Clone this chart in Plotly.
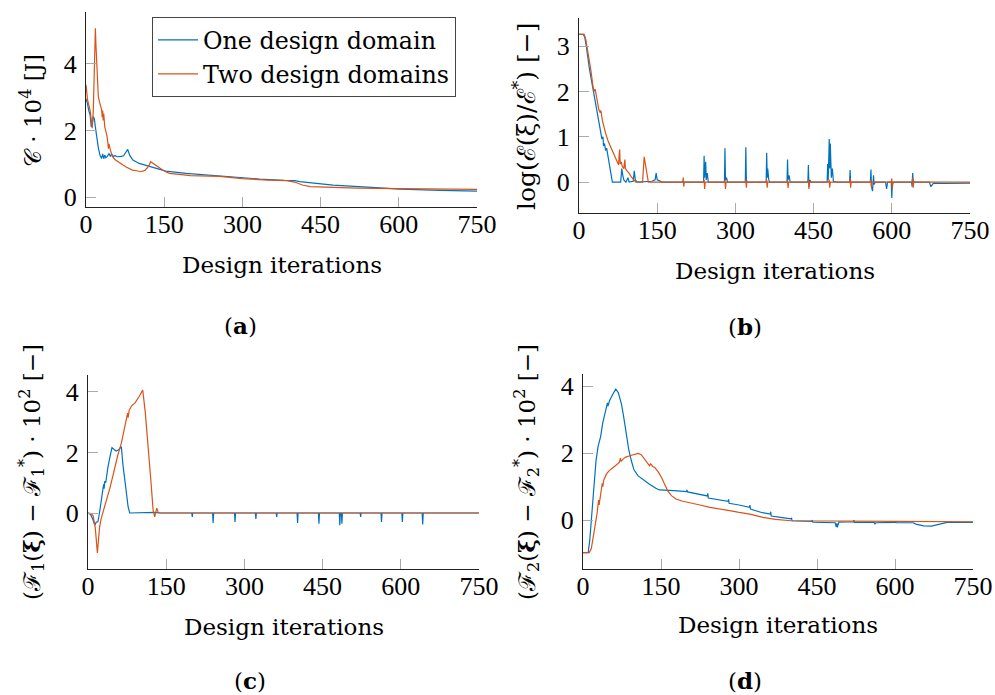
import plotly.graph_objects as go

W, H = 995, 695
BLUE = "#0072BD"
RED = "#D95319"

# ---------------- data ----------------
iter_ticks = [0, 150, 300, 450, 600, 750]

# (a) compliance C*10^4 [J]
a_one_x = [0, 3, 5, 8, 10, 12, 14, 16, 18, 21, 24, 27, 30, 32, 34, 36, 38, 41, 44, 47, 49, 52, 56, 60, 64, 68, 72, 76, 80, 84, 90, 102, 115, 128, 153, 192, 256, 333, 380, 400, 410, 440, 474, 540, 602, 680, 750]
a_one_y = [2.95, 2.8, 2.62, 2.45, 2.11, 2.2, 2.42, 2.35, 2.1, 1.71, 1.45, 1.25, 1.16, 1.3, 1.15, 1.26, 1.18, 1.22, 1.3, 1.22, 1.3, 1.22, 1.24, 1.21, 1.21, 1.22, 1.24, 1.32, 1.43, 1.25, 1.11, 1.01, 0.95, 0.89, 0.78, 0.71, 0.63, 0.54, 0.5, 0.49, 0.46, 0.42, 0.36, 0.3, 0.24, 0.2, 0.18]
a_two_x = [0, 3, 8, 11, 12, 14, 16, 18, 19, 21, 23.6, 26, 28, 30, 31, 32, 33, 34, 36, 38, 40, 42, 43, 44, 45, 47, 49, 51, 56, 61, 66, 71, 77, 83, 89, 97, 105, 113, 120, 124, 129, 134, 140, 147, 153, 160, 179, 200, 256, 300, 350, 385, 400, 415, 430, 470, 520, 600, 680, 750]
a_two_y = [3.37, 2.92, 2.6, 2.22, 2.07, 2.6, 4.0, 5.07, 4.6, 3.6, 3.02, 2.85, 2.7, 2.62, 2.4, 2.6, 2.3, 2.5, 2.11, 2.0, 1.85, 1.62, 1.45, 1.6, 1.5, 1.4, 1.3, 1.21, 1.12, 1.06, 1.0, 0.96, 0.9, 0.86, 0.81, 0.79, 0.76, 0.8, 0.92, 1.06, 1.0, 0.96, 0.88, 0.81, 0.76, 0.71, 0.68, 0.64, 0.62, 0.55, 0.51, 0.49, 0.45, 0.36, 0.31, 0.29, 0.27, 0.25, 0.23, 0.23]

# (b) log(E(xi)/E*) [-]
b_one_x = [0, 8, 11, 14, 20, 26, 32, 38, 42, 44, 46, 47, 49, 51, 53, 55, 58, 61, 64, 80, 82, 84, 86, 90, 94, 96, 104, 106, 108, 112, 140, 146, 148, 150, 160,
           239, 240, 241, 243, 244, 246, 248,
           279, 280, 281, 283, 285,
           319, 320, 321, 323,
           359, 360, 361, 362, 364, 366,
           399, 400, 401, 403, 405,
           439, 440, 441, 443, 445,
           476, 477, 478, 480, 481, 482, 484, 486, 488, 495,
           519, 520, 521, 523,
           559, 560, 561, 563, 565, 566, 568,
           588, 590, 592,
           599, 600, 601, 603,
           638, 639, 640, 641, 643,
           672, 675, 680, 700, 750]
b_one_y = [3.26, 3.26, 3.2, 3.0, 2.5, 2.1, 1.75, 1.37, 1.1, 0.95, 1.0, 0.8, 0.85, 0.7, 0.75, 0.6, 0.45, 0.2, 0.0, 0.0, 0.3, 0.15, 0.05, 0.0, 0.1, 0.0, 0.02, 0.25, 0.05, 0.0, 0.02, 0.05, 0.2, 0.05, 0.0,
           0.0, 0.58, 0.1, 0.45, 0.05, 0.2, 0.0,
           0.0, 0.75, 0.05, 0.1, 0.0,
           0.0, 0.77, 0.05, 0.0,
           0.0, 0.65, 0.1, 0.3, 0.05, 0.0,
           0.0, 0.5, 0.05, 0.15, 0.0,
           0.0, 0.38, -0.1, 0.05, 0.0,
           0.0, 0.4, 0.05, 0.95, 0.3, 0.85, 0.1, 0.3, 0.02, 0.0,
           0.0, 0.27, 0.0, 0.0,
           0.0, 0.28, -0.1, -0.2, 0.15, -0.05, 0.0,
           0.0, -0.15, 0.0,
           0.0, -0.35, -0.05, 0.0,
           0.0, -0.1, 0.2, 0.05, 0.0,
           0.0, -0.1, -0.02, -0.03, -0.02]
b_two_x = [0, 10, 13, 16, 19, 23, 27, 29, 31, 33, 35, 38, 40, 42, 45, 48, 51, 56, 60, 64, 69, 74, 76, 77, 78, 79, 81, 83, 86, 88, 89, 92, 96, 100, 105, 109, 122, 125, 127, 130, 133,
           199, 200, 201, 202, 239, 240, 241, 242, 279, 280, 281, 282, 319, 320, 321, 322,
           359, 360, 361, 362, 399, 400, 401, 402, 439, 440, 441, 442, 479, 480, 481, 482,
           519, 520, 521, 522, 559, 560, 561, 562, 599, 600, 601, 602, 639, 640, 641, 642, 750]
b_two_y = [3.26, 3.26, 3.15, 2.95, 2.75, 2.45, 2.1, 2.0, 2.05, 1.9, 1.82, 1.6, 1.55, 1.58, 1.35, 1.2, 1.08, 0.9, 0.8, 0.7, 0.55, 0.42, 0.38, 0.6, 0.72, 0.4, 0.45, 0.35, 0.3, 0.5, 0.3, 0.25, 0.2, 0.12, 0.05, 0.0, 0.0, 0.56, 0.42, 0.2, 0.0,
           0.0, 0.1, -0.1, 0.0, 0.0, 0.05, -0.15, 0.0, 0.0, 0.05, -0.15, 0.0, 0.0, 0.05, -0.12, 0.0,
           0.0, 0.05, -0.12, 0.0, 0.0, 0.05, -0.13, 0.0, 0.0, 0.05, -0.15, 0.0, 0.0, 0.05, -0.12, 0.0,
           0.0, 0.08, -0.12, 0.0, 0.0, 0.05, -0.12, 0.0, 0.0, 0.08, -0.15, 0.0, 0.0, 0.1, -0.12, 0.0, 0.0]

# (c) (F1(xi) - F1*) * 10^2 [-]
c_one_x = [0, 5, 9, 13, 16, 19, 22, 25, 28, 30, 31, 32, 34, 36, 38, 42, 46, 50, 54, 58, 64, 67, 72, 77, 80, 128, 140,
           199, 200, 201, 239, 240, 241, 281, 282, 283, 321, 322, 323, 361, 362, 363,
           401, 402, 403, 442, 443, 444, 482, 483, 484, 486, 487, 488,
           522, 523, 524, 562, 563, 564, 602, 603, 604, 641, 642, 643, 750]
c_one_y = [0, -0.05, -0.2, -0.4, -0.3, -0.29, 0.0, 0.37, 0.6, 0.95, 0.8, 1.05, 1.0, 1.3, 1.49, 1.85, 2.16, 2.1, 2.05, 2.08, 2.19, 1.6, 0.8, 0.2, 0.0, 0.02, 0.0,
           0.0, -0.13, 0.0, 0.0, -0.33, 0.0, 0.0, -0.3, 0.0, 0.0, -0.2, 0.0, 0.0, -0.13, 0.0,
           0.0, -0.33, 0.0, 0.0, -0.35, 0.0, 0.0, -0.4, 0.0, 0.0, -0.35, 0.0,
           0.0, -0.13, 0.0, 0.0, -0.3, 0.0, 0.0, -0.3, 0.0, 0.0, -0.38, 0.0, 0.0]
c_two_x = [0, 6, 10, 14, 18, 20, 22, 25, 29, 31, 33, 35, 38, 42, 46, 51, 57, 64, 70, 74, 76, 77, 79, 84, 90, 98, 105, 110, 115, 120, 125, 128, 131, 132, 134, 136, 750]
c_two_y = [0, -0.02, -0.1, -0.5, -1.32, -0.9, -0.5, -0.2, 0.04, 0.15, 0.25, 0.37, 0.5, 0.82, 1.1, 1.49, 1.9, 2.31, 2.8, 3.1, 3.3, 3.15, 3.4, 3.55, 3.63, 3.85, 4.06, 3.3, 2.36, 1.2, 0.07, -0.13, 0.1, 0.16, 0.05, 0.0, 0.0]

# (d) (F2(xi) - F2*) * 10^2 [-]
d_one_x = [0, 10, 13, 16, 20, 25, 29, 32, 34, 38, 42, 45, 47, 48, 51, 57, 63, 68, 74, 78, 83, 88, 93, 98, 106, 116, 128, 140, 147, 175, 199, 200, 201,
           239, 240, 241, 279, 280, 281, 300, 320, 321, 322, 345, 360, 361, 362, 380, 400, 401, 402,
           440, 441, 442, 480, 485, 487, 488, 489, 492, 520, 521, 522, 560, 561, 563, 600, 601, 602,
           635, 640, 655, 670, 685, 700, 750]
d_one_y = [-0.97, -0.97, -0.6, 0.0, 0.9, 1.77, 2.2, 2.37, 2.5, 2.9, 3.2, 3.36, 3.5, 3.4, 3.56, 3.75, 3.91, 3.8, 3.46, 3.1, 2.57, 2.1, 1.77, 1.5, 1.32, 1.2, 1.07, 0.95, 0.9, 0.88, 0.85, 0.9, 0.84,
           0.72, 0.8, 0.66, 0.56, 0.62, 0.5, 0.45, 0.38, 0.45, 0.33, 0.22, 0.18, 0.25, 0.12, 0.08, 0.04, 0.07, -0.02,
           -0.04, 0.0, -0.06, -0.06, -0.08, -0.2, -0.1, -0.22, -0.06, -0.05, 0.0, -0.07, -0.07, -0.12, -0.08, -0.07, -0.04, -0.08,
           -0.08, -0.12, -0.17, -0.18, -0.12, -0.07, -0.07]
d_two_x = [0, 12, 16, 19, 22, 25, 27, 29, 30, 31, 33, 35, 37, 38, 40, 45, 50, 58, 65, 70, 72, 73, 77, 82, 90, 98, 106, 112, 118, 124, 128, 130, 134, 138, 145, 151, 157, 163, 170, 179, 190, 205, 225, 244, 260, 282, 300, 321, 346, 370, 400, 450, 600, 750]
d_two_y = [-0.97, -0.97, -0.85, -0.6, -0.32, 0.0, 0.2, 0.38, 0.6, 0.45, 0.7, 0.87, 1.1, 1.0, 1.2, 1.37, 1.47, 1.57, 1.65, 1.72, 1.85, 1.75, 1.82, 1.88, 1.92, 1.96, 1.99, 1.95, 1.82, 1.7, 1.62, 1.68, 1.6, 1.57, 1.43, 1.27, 1.05, 0.87, 0.73, 0.63, 0.57, 0.51, 0.45, 0.38, 0.33, 0.28, 0.23, 0.18, 0.08, 0.02, -0.02, -0.03, -0.04, -0.05]

series_names = ["One design domain", "Two design domains"]

# ---------------- figure ----------------
TICKFONT = dict(family="Liberation Serif, Times New Roman, serif", size=26, color="black")
TEXTFONT = dict(family="DejaVu Serif, serif", size=23, color="black")


def fx(p):
    return p / W


def fy(p):
    return 1 - p / H


panels = [
    dict(sfx="", xd=(86, 477), yd=(12, 207), yr=[-0.3, 5.56], yt=[0, 2, 4],
         data=[(a_one_x, a_one_y), (a_two_x, a_two_y)]),
    dict(sfx="2", xd=(579, 970), yd=(18, 213), yr=[-0.68, 3.62], yt=[0, 1, 2, 3],
         data=[(b_one_x, b_one_y), (b_two_x, b_two_y)]),
    dict(sfx="3", xd=(88, 479), yd=(375, 569), yr=[-1.85, 4.56], yt=[0, 2, 4],
         data=[(c_one_x, c_one_y), (c_two_x, c_two_y)]),
    dict(sfx="4", xd=(583, 973), yd=(374, 569), yr=[-1.46, 4.36], yt=[0, 2, 4],
         data=[(d_one_x, d_one_y), (d_two_x, d_two_y)]),
]

fig = go.Figure()
layout = {}
for i, p in enumerate(panels):
    for j, (xs, ys) in enumerate(p["data"]):
        fig.add_trace(go.Scatter(
            x=xs, y=ys, mode="lines", name=series_names[j],
            line=dict(color=[BLUE, RED][j], width=1.2),
            xaxis="x" + p["sfx"], yaxis="y" + p["sfx"],
            showlegend=(i == 0),
        ))
    common = dict(showline=True, linecolor="#222", linewidth=1, mirror=False,
                  ticks="inside", ticklen=10, tickwidth=1, tickcolor="#aaaaaa",
                  showgrid=False, zeroline=False, tickfont=TICKFONT,
                  automargin=False)
    layout["xaxis" + p["sfx"]] = dict(
        common, domain=[fx(p["xd"][0]), fx(p["xd"][1])], range=[0, 750],
        tickvals=iter_ticks, anchor="y" + p["sfx"], ticklabelstandoff=-6)
    layout["yaxis" + p["sfx"]] = dict(
        common, domain=[fy(p["yd"][1]), fy(p["yd"][0])], range=p["yr"],
        tickvals=p["yt"], anchor="x" + p["sfx"], ticklabelstandoff=3)

annotations = []
# x-axis titles
for cx, cy in [(282, 265), (775, 271), (284, 627), (778, 625)]:
    annotations.append(dict(text="Design iterations", x=fx(cx), y=fy(cy), xref="paper", yref="paper",
                            xanchor="center", yanchor="middle", showarrow=False, font=TEXTFONT))
# sub-captions
for lab, cx, cy in [("a", 240, 325), ("b", 745, 326), ("c", 250, 680), ("d", 745, 680)]:
    annotations.append(dict(text="(<b>%s</b>)" % lab, x=fx(cx), y=fy(cy), xref="paper", yref="paper",
                            xanchor="center", yanchor="middle", showarrow=False, font=TEXTFONT))
# y-axis titles
ytitles = [
    ("𝒞 · 10<sup>4</sup> [J]", 31, 111, 23),
    ("log(ℰ(ξ)/ℰ<sup>*</sup>) [−]", 524, 117, 25),
    ("(ℱ<sub>1</sub>(<b>ξ</b>) − ℱ<sub>1</sub><sup>*</sup>) · 10<sup>2</sup> [−]", 31, 472, 23),
    ("(ℱ<sub>2</sub>(<b>ξ</b>) − ℱ<sub>2</sub><sup>*</sup>) · 10<sup>2</sup> [−]", 526, 472, 23),
]
for t, cx, cy, fs in ytitles:
    annotations.append(dict(text=t, x=fx(cx), y=fy(cy), xref="paper", yref="paper",
                            xanchor="center", yanchor="middle", textangle=-90,
                            showarrow=False, font=dict(TEXTFONT, size=fs)))

fig.update_layout(
    **layout,
    template="none",
    annotations=annotations,
    width=W, height=H,
    margin=dict(l=0, r=0, t=0, b=0, pad=0),
    paper_bgcolor="white", plot_bgcolor="white",
    legend=dict(x=fx(152), y=fy(17), xanchor="left", yanchor="top",
                bgcolor="white", bordercolor="#444", borderwidth=1,
                font=dict(family="DejaVu Serif, serif", size=23.8, color="black"),
                itemwidth=40),
)

fig.write_html("out.html", config={"displayModeBar": False},
               post_script="document.body.style.margin='0px';document.body.style.overflow='hidden';")
